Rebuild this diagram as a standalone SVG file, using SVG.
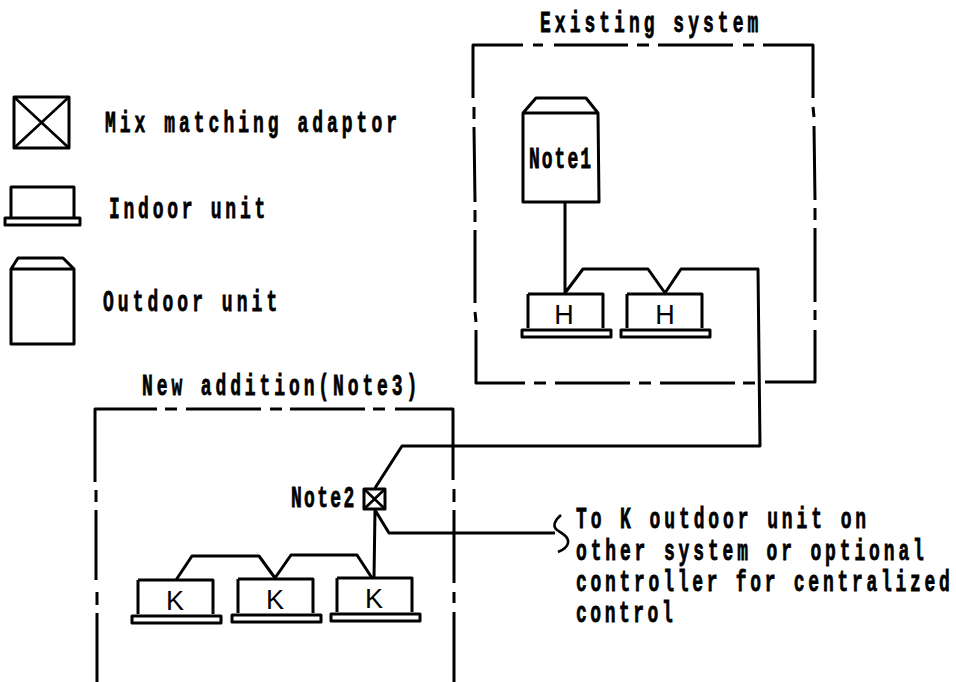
<svg xmlns="http://www.w3.org/2000/svg" width="956" height="682" viewBox="0 0 956 682">
<style>
.l{fill:none;stroke:#000;stroke-width:3;stroke-linejoin:round}
.w{fill:none;stroke:#000;stroke-width:2.6;stroke-linejoin:miter}
.t{font-family:"Liberation Mono",monospace;font-weight:bold;font-size:29px;fill:#000;stroke:#000;stroke-width:.8}
.u{font-family:"Liberation Sans",Arial,sans-serif;font-size:27px;fill:#000;text-anchor:middle}
</style>
<defs>
<g id="indoor"><path class="l" d="M6 0V34M6 0H81V34"/><rect class="l" x="0" y="36" width="89" height="7"/></g>
</defs>
<rect width="956" height="682" fill="#fff"/>
<g id="legend-adaptor"><rect class="l" x="14" y="97" width="55" height="51"/><path class="w" d="M14 97L69 148M69 97L14 148"/>
<text class="t" transform="translate(105 132) scale(.62 1)" textLength="471" lengthAdjust="spacing">Mix matching adaptor</text></g>
<g id="legend-indoor"><path class="l" d="M11 217V187H74V217"/><rect class="l" x="5" y="218" width="75" height="7"/>
<text class="t" transform="translate(109 218) scale(.62 1)" textLength="252" lengthAdjust="spacing">Indoor unit</text></g>
<g id="legend-outdoor"><path class="l" d="M11 269V344H74V269ZM11 269L18 258H63L74 269"/>
<text class="t" transform="translate(103 311) scale(.62 1)" textLength="281" lengthAdjust="spacing">Outdoor unit</text></g>
<g id="existing-system">
<path class="l" d="M523 45H473V98M533 45H543M554 45H628M637 45H649M658 45H733M743 45H754M763 45H813V98M813 107L814 117M814 126L815 200M815 208V220M815 228V302M815 310V320M815 330V382H765M755 383H743M735 383H660M651 383H639M630 383H555M546 383H534M525 383H476V330M476 322L475 312M475 303V230M475 222V210M475 202L474 127M474 119V107"/>
<text class="t" transform="translate(540 32) scale(.62 1)" textLength="352" lengthAdjust="spacing">Existing system</text></g>
<g id="outdoor-note1"><path class="l" d="M523 113V202H599L598 113ZM523 113L536 98H586L598 113"/>
<text class="t" transform="translate(529 168) scale(.62 1)" textLength="100" lengthAdjust="spacing">Note1</text></g>
<g id="indoor-h1"><use href="#indoor" x="522" y="294"/><text class="u" x="564" y="324">H</text></g>
<g id="indoor-h2"><use href="#indoor" x="621" y="294"/><text class="u" x="665" y="324">H</text></g>
<g id="new-addition">
<path class="l" d="M157 409H95V482M165 409H177M186 409H261M270 409H282M290 409H365M373 409H385M395 409H453V480M454 489V502M454 510V583M454 592V603M454 612V682M97 682V613M97 605V592M96 580V510M96 502V490"/>
<text class="t" transform="translate(142 395) scale(.62 1)" textLength="444" lengthAdjust="spacing">New addition(Note3)</text></g>
<g id="adaptor-note2"><rect class="l" x="364" y="489" width="21" height="20"/><path class="w" d="M364 489L385 509M385 489L364 509"/>
<text class="t" transform="translate(291 507) scale(.62 1)" textLength="102" lengthAdjust="spacing">Note2</text></g>
<g id="indoor-k1"><use href="#indoor" x="132" y="580"/><text class="u" x="175" y="610">K</text></g>
<g id="indoor-k2"><use href="#indoor" x="232" y="579"/><text class="u" x="275" y="609">K</text></g>
<g id="indoor-k3"><use href="#indoor" x="331" y="578"/><text class="u" x="374" y="608">K</text></g>
<g id="connectors">
<path class="l" d="M565 202V293M565 293L583 269H648L665 293L681 269H758L760 446H402L375 488"/>
<path class="l" d="M375 510L374 578M375 510L389 533H555"/>
<path class="l" d="M176 580L192 556H259L275 578L291 555H357L372 578"/>
<path class="w" d="M561 515C555 520 552 526 557 530C563 534 569 537 568 543C567 548 563 550 558 552"/>
</g>
<g id="note-text">
<text class="t" transform="translate(576 528) scale(.62 1)" textLength="468" lengthAdjust="spacing">To K outdoor unit on</text>
<text class="t" transform="translate(576 560) scale(.62 1)" textLength="561" lengthAdjust="spacing">other system or optional</text>
<text class="t" transform="translate(576 591) scale(.62 1)" textLength="603" lengthAdjust="spacing">controller for centralized</text>
<text class="t" transform="translate(576 622) scale(.62 1)" textLength="156" lengthAdjust="spacing">control</text>
</g>
</svg>
